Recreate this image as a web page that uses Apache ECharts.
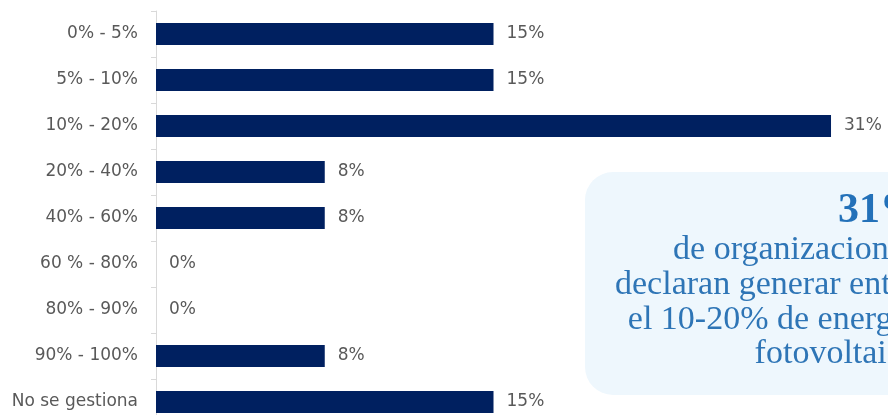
<!DOCTYPE html>
<html>
<head>
<meta charset="utf-8">
<script src="https://cdn.jsdelivr.net/npm/echarts@6/dist/echarts.min.js"></script>
<style>html,body{margin:0;padding:0;background:#fff;overflow:hidden}#c{width:888px;height:426px}</style>
</head>
<body>
<div id="c"></div>
<script>
const categories = ['0% - 5%', '5% - 10%', '10% - 20%', '20% - 40%', '40% - 60%', '60 % - 80%', '80% - 90%', '90% - 100%', 'No se gestiona'];
const values = [15.4, 15.4, 30.8, 7.7, 7.7, 0, 0, 7.7, 15.4];
const calloutBig = '31%';
const calloutLines = ['de organizaciones', 'declaran generar entre', 'el 10-20% de energía', 'fotovoltaica'];

const chart = echarts.init(document.getElementById('c'), null, {renderer: 'canvas'});
const textColor = '#2e75b6';
chart.setOption({
  animation: false,
  grid: {left: 156, top: 11, right: 0, bottom: 1, containLabel: false},
  xAxis: {type: 'value', min: 0, max: 33.4, show: false},
  yAxis: {
    type: 'category', data: categories, inverse: true,
    axisLine: {show: true, lineStyle: {color: '#d9d9d9', width: 1}},
    axisTick: {show: true, length: 5, lineStyle: {color: '#d9d9d9'}},
    axisLabel: {margin: 18, color: '#595959', fontSize: 17, fontFamily: 'DejaVu Sans'}
  },
  series: [{
    type: 'bar', data: values, barWidth: 22,
    itemStyle: {color: '#002060'},
    label: {show: true, position: 'right', distance: 13, color: '#595959', fontSize: 17, fontFamily: 'DejaVu Sans',
      formatter: p => Math.round(p.value) + '%'}
  }],
  graphic: [
    {type: 'rect', shape: {x: 585, y: 172, width: 420, height: 223, r: 28}, style: {fill: '#eef7fd'}, z: 10},
    {type: 'text', x: 922, y: 211, style: {text: calloutBig, align: 'right', verticalAlign: 'middle', fill: '#2371b9', font: 'bold 42px "Liberation Serif"'}, z: 11},
    ...calloutLines.map((t, i) => ({type: 'text', x: 917, y: 250 + i * 34.8, style: {text: t, align: 'right', verticalAlign: 'middle', fill: textColor, font: '34px "Liberation Serif"'}, z: 11}))
  ]
});
</script>
</body>
</html>
